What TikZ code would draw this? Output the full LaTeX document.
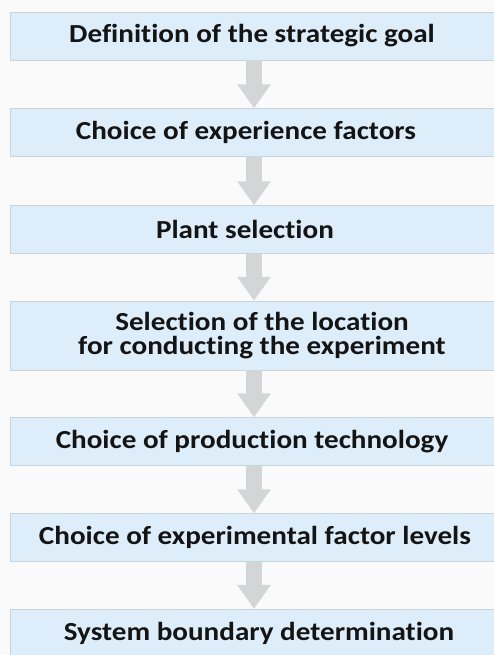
\documentclass[tikz,border=0pt]{standalone}
\usepackage{fontspec}
\setmainfont[Ligatures=NoCommon, FakeStretch=1.12]{Carlito}
\usepackage{tikz}
\usetikzlibrary{arrows.meta, positioning}
\definecolor{stepblue}{HTML}{DDEDF9}
\definecolor{steprule}{HTML}{C9D3DB}
\definecolor{flowgray}{HTML}{D3D6D7}
\definecolor{pagebg}{HTML}{FAFAFA}

\begin{document}
\begin{tikzpicture}[x=1pt, y=-1pt,
    box/.style={draw=steprule, fill=stepblue, minimum width=484pt,
                minimum height=48pt, align=center, inner sep=0pt,
                font=\fontsize{26}{24}\selectfont\bfseries, text=black!92},
    arr/.style={-{Triangle[length=24pt, width=32pt]}, line width=16pt,
                draw=flowgray},
  ]
    % === page ===
    \fill[pagebg] (0,0) rectangle (494,655);
    \useasboundingbox (0,0) rectangle (494,655);

    % === process steps (top to bottom) ===
    \node[box] (goal) at (252, 36)
      {Definition of the strategic goal};
    \node[box] (fact) at (252, 132.5)
      {Choice of experience factors\hspace*{12pt}};
    \node[box] (plant) at (252, 229.5)
      {Plant selection\hspace*{14pt}};
    \node[box, minimum height=69pt] (loc) at (252, 335.5)
      {\hspace*{20pt}Selection of the location\\
       \hspace*{20pt}for conducting the experiment};
    \node[box] (tech) at (252, 441.5)
      {Choice of production technology};
    \node[box] (lev) at (252, 537.5)
      {\hspace*{6pt}Choice of experimental factor levels};
    \node[box] (bound) at (252, 633)
      {\hspace*{14pt}System boundary determination};

    % === flow arrows ===
    \draw[arr] ([xshift=2pt]goal.south) -- ([xshift=2pt]fact.north);
    \draw[arr] ([xshift=2pt]fact.south) -- ([xshift=2pt]plant.north);
    \draw[arr] ([xshift=2pt]plant.south) -- ([xshift=2pt]loc.north);
    \draw[arr] ([xshift=2pt]loc.south) -- ([xshift=2pt]tech.north);
    \draw[arr] ([xshift=2pt]tech.south) -- ([xshift=2pt]lev.north);
    \draw[arr] ([xshift=2pt]lev.south) -- ([xshift=2pt]bound.north);
  \end{tikzpicture}
\end{document}
